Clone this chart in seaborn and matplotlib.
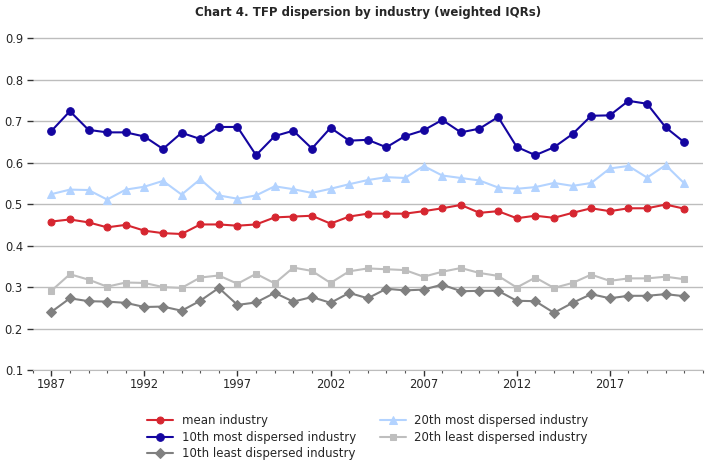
import numpy as np
import pandas as pd
import matplotlib
matplotlib.use("Agg")
import matplotlib.pyplot as plt
from matplotlib.ticker import MultipleLocator
import seaborn as sns

sns.set_style("white")

years = list(range(1987, 2022))

mean_industry = [0.458, 0.463, 0.456, 0.444, 0.450, 0.436, 0.430, 0.428, 0.451, 0.451,
                 0.448, 0.451, 0.468, 0.470, 0.472, 0.453, 0.470, 0.477, 0.477, 0.477,
                 0.483, 0.490, 0.498, 0.479, 0.483, 0.466, 0.472, 0.467, 0.479, 0.490,
                 0.483, 0.490, 0.490, 0.499, 0.489]
most_10th = [0.676, 0.724, 0.679, 0.673, 0.673, 0.663, 0.633, 0.672, 0.657, 0.686,
             0.686, 0.618, 0.664, 0.677, 0.634, 0.684, 0.653, 0.655, 0.637, 0.664,
             0.678, 0.703, 0.673, 0.682, 0.710, 0.638, 0.618, 0.637, 0.669, 0.713,
             0.714, 0.749, 0.742, 0.685, 0.649]
least_10th = [0.240, 0.273, 0.266, 0.265, 0.262, 0.252, 0.253, 0.243, 0.267, 0.298,
              0.257, 0.263, 0.286, 0.265, 0.276, 0.262, 0.286, 0.273, 0.296, 0.292,
              0.294, 0.306, 0.290, 0.291, 0.291, 0.267, 0.266, 0.238, 0.262, 0.283,
              0.273, 0.279, 0.279, 0.283, 0.278]
most_20th = [0.524, 0.535, 0.534, 0.511, 0.535, 0.542, 0.556, 0.523, 0.560, 0.521,
             0.513, 0.521, 0.543, 0.536, 0.527, 0.537, 0.548, 0.558, 0.565, 0.563,
             0.592, 0.569, 0.563, 0.557, 0.540, 0.537, 0.541, 0.551, 0.544, 0.551,
             0.586, 0.592, 0.564, 0.594, 0.550]
least_20th = [0.291, 0.331, 0.318, 0.301, 0.311, 0.310, 0.300, 0.298, 0.323, 0.328,
              0.308, 0.332, 0.309, 0.347, 0.339, 0.310, 0.338, 0.345, 0.343, 0.341,
              0.325, 0.337, 0.346, 0.334, 0.327, 0.299, 0.323, 0.298, 0.310, 0.330,
              0.315, 0.321, 0.321, 0.325, 0.319]

series = [
    ("mean industry", mean_industry, "#d62630", "o", 5),
    ("10th most dispersed industry", most_10th, "#1405a0", "o", 5.5),
    ("10th least dispersed industry", least_10th, "#808080", "D", 5),
    ("20th most dispersed industry", most_20th, "#b3d3ff", "^", 5.5),
    ("20th least dispersed industry", least_20th, "#bebebe", "s", 5),
]

fig = plt.figure(figsize=(7.1, 4.72), dpi=100)
ax = fig.add_axes([0.046, 0.216, 0.944, 0.747])

for label, vals, color, marker, ms in series:
    sns.lineplot(x=years, y=vals, ax=ax, label=label, color=color, marker=marker,
                 markersize=ms, markeredgecolor=color, linewidth=1.5)

ax.set_xlim(1986, 2022)
ax.set_ylim(0.1, 0.95)
ax.set_yticks(np.arange(0.1, 0.91, 0.1))
ax.set_yticklabels([f"{v:.1f}" for v in np.arange(0.1, 0.91, 0.1)])
ax.set_xticks(range(1987, 2022, 5))
ax.xaxis.set_minor_locator(MultipleLocator(1))
ax.grid(axis="y", color="#bdbdbd", linewidth=1)
ax.set_axisbelow(True)

for s in ["top", "right", "left"]:
    ax.spines[s].set_visible(False)
ax.spines["bottom"].set_color("#bdbdbd")

ax.tick_params(axis="y", which="major", length=4, width=1, color="#333333",
               labelsize=8.3, pad=3, left=True)
ax.tick_params(axis="x", which="major", length=4, width=1, color="#333333",
               labelsize=8.3, pad=2, bottom=True)
ax.tick_params(axis="x", which="minor", length=2, width=0.8, color="#555555", bottom=True)

fig.text(0.518, 0.9735, "Chart 4. TFP dispersion by industry (weighted IQRs)",
         ha="center", va="center", fontsize=8.5, fontweight="bold")

ax.legend(loc="upper center", bbox_to_anchor=(0.5, -0.095), ncol=2, frameon=False,
          fontsize=8.5, handlelength=2.2, handletextpad=0.7, columnspacing=2.0,
          labelspacing=0.3)

fig.savefig("out.png", dpi=100)
